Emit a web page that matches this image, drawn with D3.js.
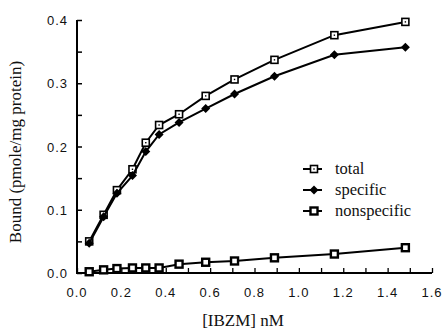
<!DOCTYPE html>
<html>
<head>
<meta charset="utf-8">
<script src="https://cdnjs.cloudflare.com/ajax/libs/d3/7.8.5/d3.min.js"></script>
<style>
  body { margin: 0; background: #fff; }
  .tick-label { font-family: "Liberation Sans", Arial, sans-serif; font-size: 13px; letter-spacing: 1px; fill: #111; }
  .title { font-family: "Liberation Serif", "Times New Roman", serif; font-size: 17px; fill: #111; }
  .legend-text { font-family: "Liberation Serif", "Times New Roman", serif; font-size: 16.5px; fill: #111; }
</style>
</head>
<body>
<script>
// concentrations [IBZM] nM
var conc = [0.055, 0.12, 0.18, 0.25, 0.31, 0.37, 0.46, 0.58, 0.71, 0.89, 1.16, 1.48];
// bound, pmole/mg protein
var total = [0.050, 0.092, 0.131, 0.164, 0.206, 0.234, 0.251, 0.280, 0.306, 0.337, 0.376, 0.397];
var specific = [0.047, 0.089, 0.126, 0.154, 0.192, 0.219, 0.238, 0.260, 0.283, 0.311, 0.345, 0.357];
var nonspecific = [0.002, 0.005, 0.007, 0.008, 0.008, 0.008, 0.014, 0.017, 0.019, 0.024, 0.030, 0.040];

var xTicks = [0, 0.2, 0.4, 0.6, 0.8, 1.0, 1.2, 1.4, 1.6];
var yTicks = [0, 0.1, 0.2, 0.3, 0.4];
var legendNames = ["total", "specific", "nonspecific"];

var width = 444, height = 330;
var svg = d3.select("body").append("svg")
    .attr("width", width)
    .attr("height", height);

var xScale = d3.scaleLinear().domain([0, 1.6]).range([77, 432]);
var yScale = d3.scaleLinear().domain([0, 0.4]).range([273, 20]);

// axes, ticks pointing inward
var xAxis = d3.axisTop(xScale)
    .tickValues(d3.range(0, 1.61, 0.1))
    .tickSize(5)
    .tickFormat("");
svg.append("g")
    .attr("transform", "translate(0," + yScale(0) + ")")
    .call(xAxis)
    .call(function(g) {
      g.select(".domain").attr("stroke-width", 2).attr("d", "M" + (xScale(0) - 1) + ",0H" + xScale(1.6));
      g.selectAll(".tick line").attr("stroke-width", 1.3);
    });

var yAxis = d3.axisRight(yScale)
    .tickValues(d3.range(0, 0.401, 0.05))
    .tickSize(5)
    .tickFormat("");
svg.append("g")
    .attr("transform", "translate(" + xScale(0) + ",0)")
    .call(yAxis)
    .call(function(g) {
      g.select(".domain").attr("stroke-width", 2).attr("d", "M0," + yScale(0) + "V" + yScale(0.4));
      g.selectAll(".tick line").attr("stroke-width", 1.5);
    });

// tick labels
svg.selectAll(".xlab")
  .data(xTicks)
  .enter().append("text")
    .attr("class", "tick-label")
    .attr("x", function(d) { return xScale(d); })
    .attr("y", 297)
    .attr("text-anchor", "middle")
    .text(function(d) { return d3.format(".1f")(d); });

svg.selectAll(".ylab")
  .data(yTicks)
  .enter().append("text")
    .attr("class", "tick-label")
    .attr("x", 68)
    .attr("y", function(d) { return yScale(d) + 5; })
    .attr("text-anchor", "end")
    .text(function(d) { return d3.format(".1f")(d); });

// axis titles
svg.append("text")
    .attr("class", "title")
    .attr("x", 243)
    .attr("y", 326)
    .attr("text-anchor", "middle")
    .text("[IBZM] nM");

svg.append("text")
    .attr("class", "title")
    .attr("transform", "translate(21,152) rotate(-90)")
    .attr("text-anchor", "middle")
    .text("Bound (pmole/mg protein)");

// series
var series = [
  {name: "total", values: total},
  {name: "specific", values: specific},
  {name: "nonspecific", values: nonspecific}
];

var line = d3.line()
    .x(function(d) { return xScale(d[0]); })
    .y(function(d) { return yScale(d[1]); });

function drawMarker(g, name) {
  if (name == "total") {
    g.append("rect").attr("x", -3.5).attr("y", -3.5).attr("width", 7).attr("height", 7)
      .attr("fill", "#fff").attr("stroke", "#000").attr("stroke-width", 1.6);
    g.append("rect").attr("x", -0.7).attr("y", -0.7).attr("width", 1.4).attr("height", 1.4).attr("fill", "#000");
  } else if (name == "specific") {
    g.append("path").attr("d", "M0,-4.5L4.5,0L0,4.5L-4.5,0Z").attr("fill", "#000");
  } else {
    g.append("rect").attr("x", -3.5).attr("y", -3.5).attr("width", 7).attr("height", 7)
      .attr("fill", "#fff").attr("stroke", "#000").attr("stroke-width", 2.4);
  }
}

series.forEach(function(s) {
  var pts = conc.map(function(c, i) { return [c, s.values[i]]; });
  svg.append("path")
      .datum(pts)
      .attr("fill", "none")
      .attr("stroke", "#000")
      .attr("stroke-width", 2)
      .attr("d", line);
  pts.forEach(function(p) {
    var g = svg.append("g").attr("transform", "translate(" + xScale(p[0]) + "," + yScale(p[1]) + ")");
    drawMarker(g, s.name);
  });
});

// legend
var legend = svg.append("g").attr("transform", "translate(314,169)");
legendNames.forEach(function(n, i) {
  var row = legend.append("g").attr("transform", "translate(0," + (i * 21) + ")");
  row.append("line").attr("x1", -11).attr("x2", 8).attr("y1", 0).attr("y2", 0)
    .attr("stroke", "#000").attr("stroke-width", 2);
  drawMarker(row, n);
  row.append("text")
    .attr("class", "legend-text")
    .attr("x", 21)
    .attr("y", 5)
    .text(n);
});
</script>
</body>
</html>
